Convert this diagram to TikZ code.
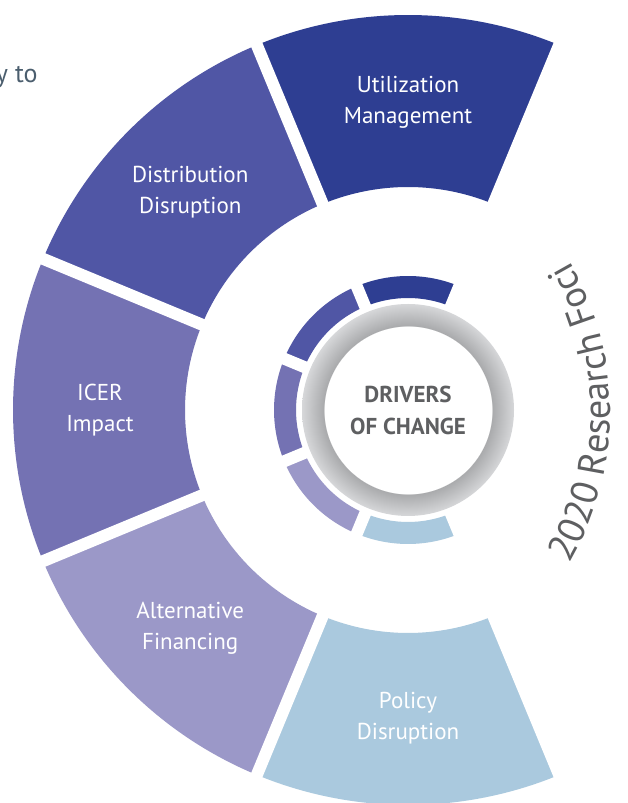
\documentclass[tikz,border=0pt]{standalone}
\usepackage{fontspec}
\setmainfont{PT Sans}
\usetikzlibrary{decorations.text}

\definecolor{utilC}{HTML}{2E3E92}
\definecolor{distC}{HTML}{5056A5}
\definecolor{icerC}{HTML}{7472B3}
\definecolor{altC}{HTML}{9B98C8}
\definecolor{polC}{HTML}{AAC9DE}
\definecolor{coreGray}{HTML}{5E5F61}
\definecolor{fociGray}{HTML}{5E5F61}
\definecolor{introC}{HTML}{4B5E6E}
\definecolor{ringDark}{HTML}{A9AAAC}
\definecolor{ringLight}{HTML}{D6D7D9}

% white core, grey ring from 84pt to 106pt (25bp = path radius)
\pgfdeclareradialshading{ringshade}{\pgfpoint{0bp}{0bp}}{%
  color(0bp)=(white); color(19.8bp)=(white); color(19.85bp)=(ringDark);
  color(25bp)=(ringLight); color(50bp)=(ringLight)}

\begin{document}
\begin{tikzpicture}[x=1pt, y=1pt,
    segtext/.style={text=white, align=center, font=\fontsize{23}{31}\selectfont},
    coretext/.style={text=coreGray, align=center, font=\bfseries\fontsize{23}{32}\selectfont},
    gapline/.style={white, line width=12pt}]

\useasboundingbox (0,0) rectangle (628,803);
\fill[white] (0,0) rectangle (628,803);

\coordinate (c) at (408,393);

% outer ring and the small arcs, one slot of 45 degrees each
\begin{scope}[shift={(c)}]
\foreach \a/\col in {90/utilC, 135/distC, 180/icerC, 225/altC, 270/polC} {
  \fill[\col] (\a-22.5:223pt) arc[start angle=\a-22.5, end angle=\a+22.5, radius=223pt]
    -- (\a+22.5:395pt) arc[start angle=\a+22.5, end angle=\a-22.5, radius=395pt] -- cycle;
  \fill[\col] (\a-22.5:112pt) arc[start angle=\a-22.5, end angle=\a+22.5, radius=112pt]
    -- (\a+22.5:134pt) arc[start angle=\a+22.5, end angle=\a-22.5, radius=134pt] -- cycle;
}
\foreach \a in {67.5, 112.5, 157.5, 202.5, 247.5, 292.5}
  \draw[gapline] (\a:109pt) -- (\a:420pt);

\shade[shading=ringshade] (0,0) circle[radius=106pt];

\node[segtext] (util) at (90:308pt) {Utilization\\Management};
\node[segtext] (dist) at (135:308pt) {Distribution\\Disruption};
\node[segtext] (icer) at (180:308pt) {ICER\\Impact};
\node[segtext] (altfin) at (225:308pt) {Alternative\\Financing};
\node[segtext] (policy) at (270:308pt) {Policy\\Disruption};
\end{scope}

\node[coretext] (core) at (c) {DRIVERS\\OF CHANGE};

% curved title on the right
\path[decorate, decoration={text along path, text align=center,
    text={|\fontsize{38}{38}\selectfont\color{fociGray}|2020 Research Foci}}]
  (310,391) ++(-38:300pt) arc[start angle=-38, end angle=38, radius=300pt];

\node[anchor=base east, text=introC, font=\fontsize{26}{28}\selectfont] (intro)
  at (41,720) {y to};
\end{tikzpicture}
\end{document}
